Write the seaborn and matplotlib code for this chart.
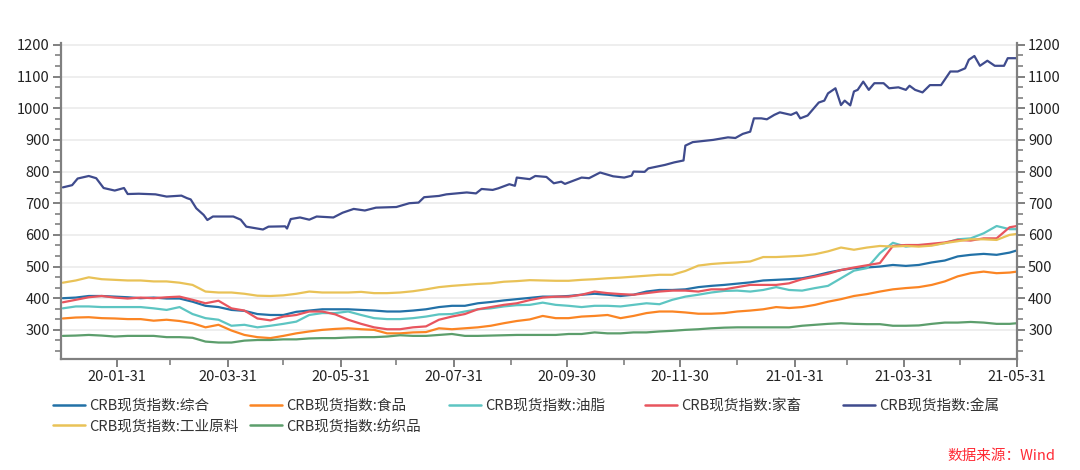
import pandas as pd
import matplotlib
matplotlib.use("Agg")
import matplotlib.pyplot as plt
import matplotlib.dates as mdates
from matplotlib.ticker import MultipleLocator, FixedLocator
from matplotlib.lines import Line2D
import seaborn as sns

# weekly sample dates for the six lower indices
week_dates = pd.date_range("2020-01-02", periods=74, freq="7D").append(pd.DatetimeIndex(["2021-05-31"]))

zonghe = [400, 402, 407, 407, 405, 403, 400, 402, 399, 399,
          389, 376, 372, 363, 360, 350, 347, 347, 357, 361,
          365, 365, 365, 363, 361, 358, 358, 361, 365, 372,
          376, 376, 384, 388, 393, 397, 401, 405, 405, 407,
          411, 414, 411, 407, 411, 421, 426, 426, 428, 435,
          439, 442, 446, 450, 456, 458, 460, 463, 471, 481,
          489, 495, 497, 500, 505, 502, 505, 513, 519, 532,
          537, 540, 537, 544, 551]

shipin = [336, 339, 340, 337, 336, 334, 334, 329, 332, 328,
          321, 308, 316, 298, 284, 277, 274, 281, 289, 295,
          300, 303, 305, 302, 300, 289, 289, 292, 293, 305,
          302, 305, 308, 313, 321, 328, 333, 344, 337, 337,
          342, 344, 347, 337, 344, 353, 358, 358, 355, 351,
          351, 353, 358, 361, 365, 372, 369, 372, 379, 389,
          397, 407, 413, 421, 428, 432, 435, 442, 453, 469,
          479, 484, 479, 481, 484]

youzhi = [368, 374, 374, 372, 372, 372, 372, 368, 363, 372,
          350, 337, 332, 313, 316, 308, 313, 319, 326, 347,
          353, 353, 358, 347, 337, 334, 334, 337, 342, 349,
          350, 358, 365, 368, 374, 378, 379, 386, 379, 376,
          372, 376, 376, 374, 379, 384, 381, 395, 405, 411,
          418, 423, 424, 421, 426, 435, 426, 424, 432, 439,
          463, 487, 495, 542, 575, 563, 568, 568, 574, 586,
          589, 605, 628, 618, 618]

jiachu = [387, 395, 403, 407, 402, 399, 402, 400, 403, 405,
          395, 384, 392, 368, 361, 336, 330, 342, 347, 358,
          358, 349, 332, 319, 308, 302, 302, 308, 311, 332,
          342, 350, 365, 372, 379, 384, 394, 402, 405, 405,
          411, 421, 416, 413, 411, 416, 421, 424, 424, 421,
          428, 428, 435, 442, 442, 442, 447, 460, 468, 477,
          489, 497, 504, 511, 565, 568, 568, 572, 576, 584,
          582, 589, 589, 624, 628]

gongye = [449, 456, 466, 460, 458, 456, 456, 453, 453, 449,
          442, 421, 418, 418, 414, 408, 407, 409, 414, 421,
          418, 418, 418, 420, 416, 416, 418, 422, 428, 435,
          439, 442, 445, 447, 452, 454, 457, 456, 455, 455,
          458, 460, 463, 465, 468, 471, 474, 474, 486, 503,
          508, 511, 513, 516, 530, 530, 532, 534, 539, 548,
          560, 553, 560, 565, 563, 565, 563, 566, 574, 580,
          586, 586, 584, 600, 603]

fangzhi = [281, 282, 284, 282, 279, 281, 281, 281, 277, 277,
           275, 263, 260, 260, 266, 268, 268, 270, 270, 273,
           274, 274, 276, 277, 277, 279, 283, 281, 281, 284,
           287, 281, 281, 282, 283, 284, 284, 284, 284, 287,
           287, 292, 289, 289, 292, 292, 295, 297, 300, 302,
           305, 307, 308, 308, 308, 308, 308, 313, 316, 319,
           321, 319, 318, 318, 313, 313, 314, 319, 323, 323,
           325, 323, 319, 319, 321]

# metals index has its own (denser) dates
jinshu_dates = [
    "2020-01-02", "2020-01-07", "2020-01-10", "2020-01-16", "2020-01-20", "2020-01-24",
    "2020-01-30", "2020-02-04", "2020-02-06", "2020-02-12", "2020-02-21", "2020-02-27",
    "2020-03-06", "2020-03-09", "2020-03-11", "2020-03-14", "2020-03-18", "2020-03-20",
    "2020-03-23", "2020-04-03", "2020-04-07", "2020-04-10", "2020-04-13", "2020-04-19",
    "2020-04-22", "2020-05-01", "2020-05-02", "2020-05-04", "2020-05-09", "2020-05-14",
    "2020-05-18", "2020-05-27", "2020-06-01", "2020-06-07", "2020-06-13", "2020-06-19",
    "2020-06-30", "2020-07-07", "2020-07-12", "2020-07-15", "2020-07-23", "2020-07-27",
    "2020-08-07", "2020-08-12", "2020-08-15", "2020-08-21", "2020-08-24", "2020-08-30",
    "2020-09-02", "2020-09-03", "2020-09-10", "2020-09-13", "2020-09-19", "2020-09-23",
    "2020-09-27", "2020-09-29", "2020-10-08", "2020-10-12", "2020-10-18", "2020-10-25",
    "2020-10-31", "2020-11-04", "2020-11-05", "2020-11-11", "2020-11-13", "2020-11-22",
    "2020-11-27", "2020-12-02", "2020-12-03", "2020-12-07", "2020-12-18", "2020-12-26",
    "2020-12-30", "2021-01-03", "2021-01-07", "2021-01-09", "2021-01-13", "2021-01-16",
    "2021-01-20", "2021-01-23", "2021-01-29", "2021-02-01", "2021-02-03", "2021-02-07",
    "2021-02-13", "2021-02-16", "2021-02-18", "2021-02-22", "2021-02-25", "2021-02-27",
    "2021-03-02", "2021-03-04", "2021-03-06", "2021-03-09", "2021-03-12", "2021-03-15",
    "2021-03-20", "2021-03-23", "2021-03-28", "2021-04-01", "2021-04-03", "2021-04-06",
    "2021-04-10", "2021-04-14", "2021-04-20", "2021-04-25", "2021-04-29", "2021-05-03",
    "2021-05-05", "2021-05-08", "2021-05-11", "2021-05-15", "2021-05-19", "2021-05-24",
    "2021-05-26", "2021-05-31"]
jinshu = [750, 757, 778, 786, 779, 748,
          740, 748, 729, 730, 728, 721,
          724, 716, 712, 684, 663, 647,
          658, 658, 648, 626, 623, 617,
          626, 627, 620, 650, 655, 648,
          658, 655, 670, 682, 677, 686,
          688, 700, 702, 719, 723, 728,
          734, 731, 745, 742, 747, 760,
          755, 781, 776, 786, 783, 763,
          768, 761, 781, 779, 797, 785,
          781, 787, 800, 799, 810, 821,
          829, 835, 882, 893, 900, 908,
          906, 919, 926, 968, 968, 965,
          979, 987, 979, 987, 968, 977,
          1018, 1024, 1047, 1063, 1010, 1024,
          1009, 1053, 1058, 1084, 1058, 1079,
          1079, 1063, 1066, 1058, 1071, 1058,
          1050, 1073, 1073, 1116, 1116, 1126,
          1153, 1165, 1134, 1150, 1134, 1134,
          1158, 1158]

names = ["CRB现货指数:综合", "CRB现货指数:食品", "CRB现货指数:油脂", "CRB现货指数:家畜",
         "CRB现货指数:金属", "CRB现货指数:工业原料", "CRB现货指数:纺织品"]
colors = ["#2271a7", "#fb8524", "#5dc5c2", "#e8555e", "#3f4b8d", "#e9c257", "#5c9e6c"]

frames = []
for name, vals in zip(names, [zonghe, shipin, youzhi, jiachu, None, gongye, fangzhi]):
    if vals is None:
        frames.append(pd.DataFrame({"date": pd.to_datetime(jinshu_dates), "value": jinshu, "series": name}))
    else:
        frames.append(pd.DataFrame({"date": week_dates, "value": vals, "series": name}))
df = pd.concat(frames, ignore_index=True)

sns.set_theme(style="white")
plt.rcParams["font.family"] = ["Noto Sans CJK SC", "DejaVu Sans"]
plt.rcParams["axes.unicode_minus"] = False

fig, ax = plt.subplots(figsize=(10.8, 4.7), dpi=100)
fig.subplots_adjust(left=61 / 1080, right=1017 / 1080, top=1 - 43 / 470, bottom=1 - 359 / 470)

palette = dict(zip(names, colors))
sns.lineplot(data=df, x="date", y="value", hue="series", hue_order=names, palette=palette,
             linewidth=1.6, legend=False, errorbar=None, ax=ax)

ax.set_xlim(pd.Timestamp("2020-01-01"), pd.Timestamp("2021-05-31"))
ax.set_ylim(208, 1206)
ax.set_xlabel("")
ax.set_ylabel("")

# month-end ticks, labels every two months
month_ends = pd.date_range("2020-01-31", "2021-05-31", freq="ME")
major = [mdates.date2num(d) for d in month_ends[::2]]
minor = [mdates.date2num(d) for d in month_ends[1::2]]
ax.xaxis.set_major_locator(FixedLocator(major))
ax.xaxis.set_minor_locator(FixedLocator(minor))
ax.xaxis.set_major_formatter(mdates.DateFormatter("%y-%m-%d"))

ax.yaxis.set_major_locator(MultipleLocator(100))
ax.yaxis.set_minor_locator(MultipleLocator(100 / 3))

ax.grid(axis="y", color="#ebebeb", linewidth=1.2)
ax.set_axisbelow(True)

for side in ["left", "right", "bottom"]:
    ax.spines[side].set_visible(True)
    ax.spines[side].set_color("#808080")
    ax.spines[side].set_linewidth(1.6)
ax.spines["top"].set_visible(False)

ax.tick_params(axis="both", which="major", direction="out", length=6, width=1.4,
               color="#808080", labelsize=10.5, labelcolor="#222222", pad=2)
ax.tick_params(axis="both", which="minor", direction="out", length=4, width=1.2, color="#808080")
ax.tick_params(axis="y", which="both", left=True, right=True, labelleft=True, labelright=True)
ax.tick_params(axis="x", which="both", bottom=True, top=False)

# legend laid out as fixed-width columns, like the source chart
handles = {n: Line2D([0], [0], color=c, linewidth=1.8) for n, c in zip(names, colors)}
columns = [[names[0], names[5]], [names[1], names[6]], [names[2]], [names[3]], [names[4]]]
col_x = [53, 250, 449, 645, 843]
for cx, col in zip(col_x, columns):
    fig.legend([handles[n] for n in col], col, loc="upper left",
               bbox_to_anchor=(cx / 1080, 1 - 399 / 470), frameon=False,
               fontsize=10.5, handlelength=2.2, handletextpad=0.25,
               labelspacing=0.45, borderpad=0, borderaxespad=0,
               labelcolor="#333333")

fig.text(1055 / 1080, 1 - 456 / 470, "数据来源：Wind", color="#ff2a35", fontsize=10.5,
         style="italic", ha="right", va="center")

fig.savefig("out.png", dpi=100)
